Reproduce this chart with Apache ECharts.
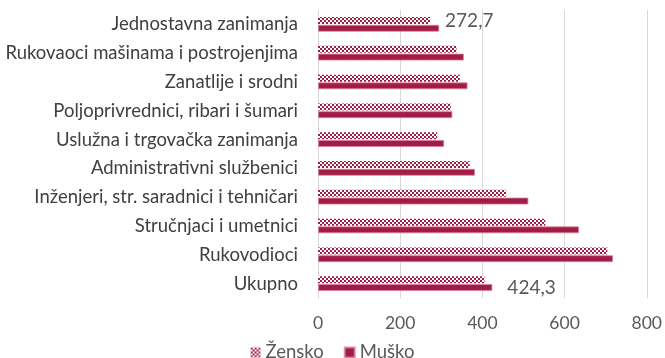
<!DOCTYPE html>
<html>
<head>
<meta charset="utf-8">
<script src="https://cdn.jsdelivr.net/npm/echarts@6/dist/echarts.min.js"></script>
<style>
  html, body { margin: 0; padding: 0; background: #fff; }
  #chart { width: 665px; height: 358px; }
</style>
</head>
<body>
<div id="chart"></div>
<script>
// Occupation groups, listed bottom to top
const categories = [
  'Ukupno',
  'Rukovodioci',
  'Stručnjaci i umetnici',
  'Inženjeri, str. saradnici i tehničari',
  'Administrativni službenici',
  'Uslužna i trgovačka zanimanja',
  'Poljoprivrednici, ribari i šumari',
  'Zanatlije i srodni',
  'Rukovaoci mašinama i postrojenjima',
  'Jednostavna zanimanja'
];
const seriesNames = ['Žensko', 'Muško'];
const zenskoValues = [405, 704, 553, 458, 369, 290, 323, 345, 337, 272.7];
const muskoValues  = [424.3, 718, 635, 512, 382, 307, 327, 364, 355, 295];
const xTicks = [0, 200, 400, 600, 800];

// Bars that carry a value label: [series index, category index]
const labelledBars = [[0, 9], [1, 0]];

const crimson = '#A31C45';
const font = 'Lato';

// Checkerboard fill for the female series
function checker() {
  const c = document.createElement('canvas');
  c.width = 4; c.height = 4;
  const g = c.getContext('2d');
  g.fillStyle = '#ffffff';
  g.fillRect(0, 0, 4, 4);
  g.fillStyle = crimson;
  g.fillRect(0, 0, 2, 2);
  g.fillRect(2, 2, 2, 2);
  return c;
}

const fmt = v => v.toFixed(1).replace('.', ',');

function buildData(values, si) {
  return values.map((v, ci) => {
    const hasLabel = labelledBars.some(([s, c]) => s === si && c === ci);
    return hasLabel
      ? { value: v, label: { show: true, position: 'right', distance: 15,
          formatter: p => fmt(p.value), color: '#595959', fontSize: 19,
          fontFamily: font } }
      : v;
  });
}

const chart = echarts.init(document.getElementById('chart'), null, { renderer: 'canvas' });
chart.setOption({
  animation: false,
  textStyle: { fontFamily: font },
  grid: { left: 318, right: 17, top: 10, bottom: 60, containLabel: false },
  legend: {
    top: 338,
    left: 'center',
    itemWidth: 10,
    itemHeight: 10,
    itemGap: 20,
    itemTextGap: 5,
    icon: 'rect',
    textStyle: { color: '#595959', fontSize: 18.5, fontFamily: font },
    data: seriesNames
  },
  xAxis: {
    type: 'value',
    min: xTicks[0],
    max: xTicks[xTicks.length - 1],
    interval: 200,
    axisLine: { show: false },
    axisTick: { show: false },
    splitLine: { lineStyle: { color: '#d9d9d9', width: 1 } },
    axisLabel: { color: '#595959', fontSize: 17.5, margin: 16, fontFamily: font }
  },
  yAxis: {
    type: 'category',
    data: categories,
    axisLine: { show: true, lineStyle: { color: '#d9d9d9', width: 1 } },
    axisTick: { show: false },
    axisLabel: { color: '#404040', fontSize: 18.5, margin: 20, fontFamily: font }
  },
  series: [
    {
      name: seriesNames[0],
      type: 'bar',
      barWidth: 7,
      barGap: '10%',
      itemStyle: { color: { image: checker(), repeat: 'repeat' } },
      data: buildData(zenskoValues, 0)
    },
    {
      name: seriesNames[1],
      type: 'bar',
      barWidth: 7,
      barGap: '10%',
      itemStyle: { color: crimson, borderColor: 'rgba(214,130,158,0.8)', borderWidth: 1 },
      data: buildData(muskoValues, 1)
    }
  ]
});
</script>
</body>
</html>
